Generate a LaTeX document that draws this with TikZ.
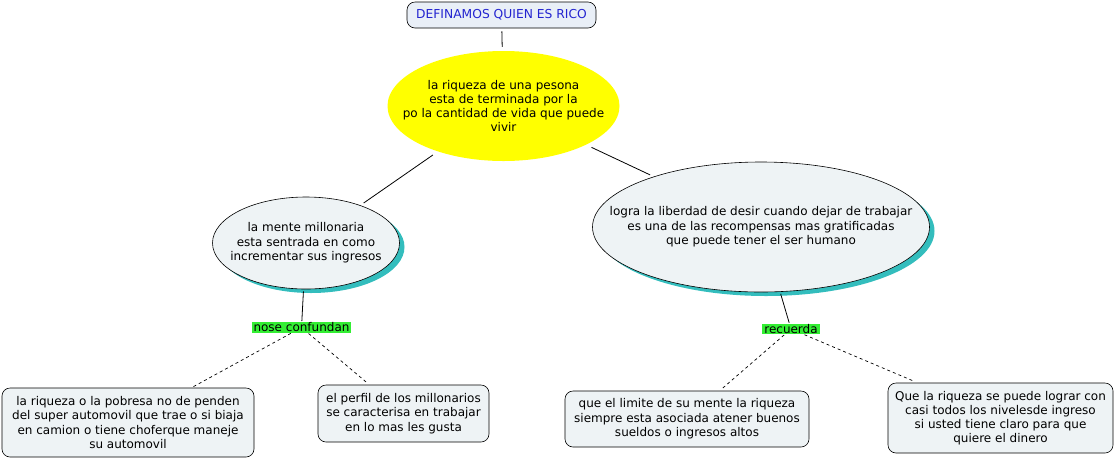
\documentclass[tikz,border=0pt]{standalone}
\usepackage{fontspec}
\setmainfont{DejaVu Sans}
\usetikzlibrary{shapes.geometric,shadows}
\definecolor{boxfill}{HTML}{EEF3F5}
\definecolor{titlefill}{HTML}{E9EFF7}
\definecolor{titletext}{HTML}{2424D0}
\definecolor{shadowc}{HTML}{33BDBD}
\definecolor{labelgreen}{HTML}{33EE33}
\definecolor{yel}{HTML}{FFFF00}
\tikzset{
  x=1pt, y=-1pt,
  every node/.style={font=\fontsize{12}{14.5}\selectfont, align=center, text=black},
  roundbox/.style={draw=black, line width=0.6pt, fill=boxfill, rounded corners=8pt, inner sep=0pt},
  oval/.style={ellipse, draw=black, line width=0.6pt, fill=boxfill, inner sep=0pt,
    drop shadow={fill=shadowc, opacity=1, shadow xshift=5pt, shadow yshift=-4pt, shadow scale=1}},
  ovaltext/.style={inner sep=0pt},
  tag/.style={fill=labelgreen, inner xsep=2pt, inner ysep=0.5pt},
  link/.style={draw=black, line width=0.8pt},
  dlink/.style={draw=black, line width=0.7pt, dash pattern=on 3pt off 3pt},
}
\begin{document}
\begin{tikzpicture}
\useasboundingbox (0,0) rectangle (1117,459);
\node[roundbox, fill=titlefill, minimum width=189pt, minimum height=26pt, text=titletext, font=\fontsize{12.3}{14}\selectfont] (title) at (501.5,15) {DEFINAMOS QUIEN ES RICO};
\node[ellipse, fill=yel, inner sep=0pt, minimum width=232pt, minimum height=110pt] (mid) at (503.5,106) {};
\node[ovaltext, font=\fontsize{12}{14}\selectfont] (midtext) at (mid.center)
  {la riqueza de una pesona\\esta de terminada por la\\po la cantidad de vida que puede\\vivir};
\node[oval, minimum width=187pt, minimum height=92pt] (left) at (306,243) {};
\node[ovaltext] (lefttext) at (left.center)
  {la mente millonaria\\esta sentrada en como\\incrementar sus ingresos};
\node[oval, minimum width=337pt, minimum height=130pt] (right) at (761,227) {};
\node[ovaltext] (righttext) at (right.center)
  {logra la liberdad de desir cuando dejar de trabajar\\es una de las recompensas mas gratificadas\\que puede tener el ser humano};
\node[tag] (nc) at (301.5,327.5) {nose confundan};
\node[tag] (rc) at (791,329) {recuerda};
\node[roundbox, minimum width=252pt, minimum height=69pt] (b1) at (128,422.5)
  {la riqueza o la pobresa no de penden\\del super automovil que trae o si biaja\\en camion o tiene choferque maneje\\su automovil};
\node[roundbox, minimum width=171pt, minimum height=57pt] (b2) at (403.5,413.5)
  {el perfil de los millonarios\\se caracterisa en trabajar\\en lo mas les gusta};
\node[roundbox, minimum width=244pt, minimum height=56pt] (b3) at (687,419)
  {que el limite de su mente la riqueza\\siempre esta asociada atener buenos\\sueldos o ingresos altos};
\node[roundbox, minimum width=225pt, minimum height=70pt, font=\fontsize{12}{13.8}\selectfont] (b4) at (1000.5,418)
  {Que la riqueza se puede lograr con\\casi todos los nivelesde ingreso\\si usted tiene claro para que\\quiere el dinero};
\draw[link, shorten <=3pt, shorten >=4pt] (title) -- (mid);
\draw[link, shorten <=6pt, shorten >=4pt] (mid) -- (left);
\draw[link, shorten <=6pt, shorten >=4pt] (mid) -- (right);
\draw[link, shorten <=2pt, shorten >=1pt] (left) -- (nc);
\draw[link, shorten <=2pt, shorten >=1pt] (right) -- (rc);
\draw[dlink, shorten <=1pt, shorten >=2pt] (nc) -- (b1);
\draw[dlink, shorten <=1pt, shorten >=2pt] (nc) -- (b2);
\draw[dlink, shorten <=1pt, shorten >=3pt] (rc) -- (b3);
\draw[dlink, shorten <=1pt, shorten >=3pt] (rc) -- (b4);
\end{tikzpicture}
\end{document}
